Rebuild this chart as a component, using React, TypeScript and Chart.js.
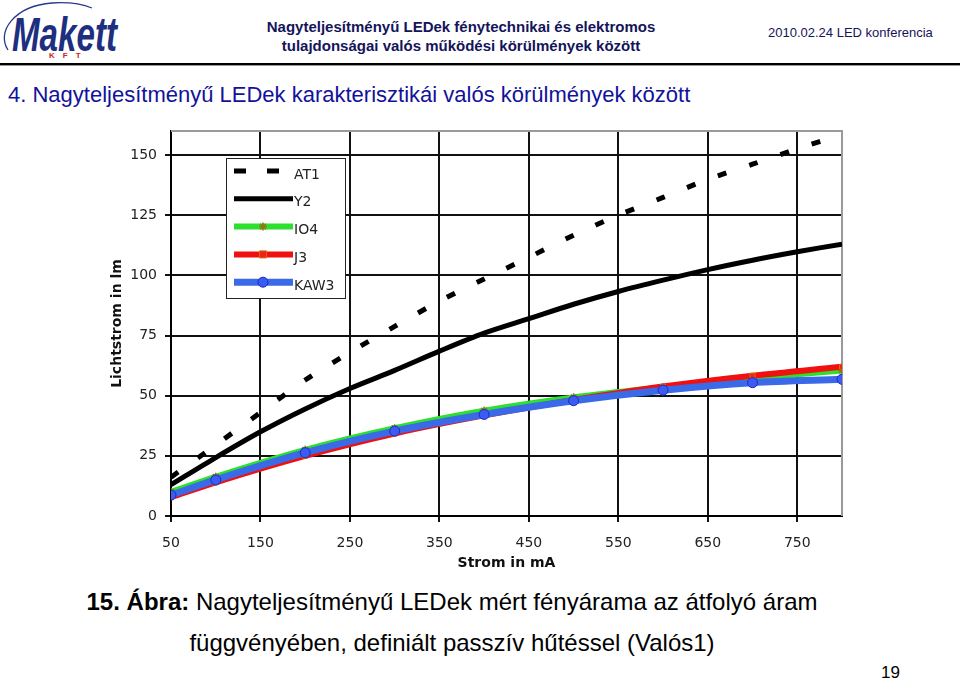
import React, { useEffect, useRef } from 'react';
import { Chart, registerables } from 'chart.js';

Chart.register(...registerables);

// ---- data ----
const currentMa = [50, 100, 150, 200, 250, 300, 350, 400, 450, 500, 550, 600, 650, 700, 750, 800];
const at1Lm = [16.1, 29.5, 43, 56.5, 68, 78.8, 89.3, 98.5, 107.5, 116.7, 125, 132.4, 139.9, 146.2, 152.6, 158.5];
const y2Lm = [13, 24.3, 35, 44.5, 53, 60.5, 68.5, 76, 82, 88, 93.3, 98, 102.4, 106.3, 109.8, 113];
const markerMa = [50, 100, 200, 300, 400, 500, 600, 700, 800];
const io4Lm = [10, 16.3, 27.5, 36.5, 43.8, 49.3, 53.5, 57.3, 60.5];
const j3Lm = [7.8, 14, 25, 34.3, 41.8, 48.2, 53.8, 58.3, 62];
const kaw3Lm = [8.7, 15, 26.3, 35.3, 42.2, 47.9, 52.3, 55.4, 56.8];
const xTicks = [50, 150, 250, 350, 450, 550, 650, 750];
const yTicks = [0, 25, 50, 75, 100, 125, 150];
const seriesNames = ['AT1', 'Y2', 'IO4', 'J3', 'KAW3'];

const pts = (xs: number[], ys: number[]) => xs.map((x, i) => ({ x, y: ys[i] }));

function drawMarker(ctx: CanvasRenderingContext2D, style: string, x: number, y: number, r: number, fill: string, stroke: string, bw: number) {
  ctx.save();
  ctx.setLineDash([]);
  ctx.fillStyle = fill;
  ctx.strokeStyle = stroke;
  ctx.lineWidth = bw;
  ctx.beginPath();
  if (style === 'circle') {
    ctx.arc(x, y, r, 0, Math.PI * 2);
    ctx.fill();
    ctx.stroke();
  } else if (style === 'rect') {
    ctx.rect(x - r, y - r, r * 2, r * 2);
    ctx.fill();
    ctx.stroke();
  } else if (style === 'star') {
    for (let k = 0; k < 4; k++) {
      const a = (k * Math.PI) / 4;
      ctx.moveTo(x - Math.cos(a) * r, y - Math.sin(a) * r);
      ctx.lineTo(x + Math.cos(a) * r, y + Math.sin(a) * r);
    }
    ctx.stroke();
  }
  ctx.restore();
}

const framePlugin = {
  id: 'frame',
  beforeDatasetsDraw(chart: any) {
    const { ctx, chartArea: a } = chart;
    ctx.save();
    ctx.strokeStyle = '#9a9a9a';
    ctx.lineWidth = 2;
    ctx.beginPath();
    ctx.moveTo(a.left, a.top);
    ctx.lineTo(a.right, a.top);
    ctx.lineTo(a.right, a.bottom);
    ctx.stroke();
    ctx.restore();
  },
};

const boxLegendPlugin = {
  id: 'boxLegend',
  afterDatasetsDraw(chart: any) {
    const { ctx, chartArea: a } = chart;
    const x0 = a.left + 55;
    const y0 = a.top + 27;
    const w = 119;
    const h = 140;
    ctx.save();
    ctx.fillStyle = '#ffffff';
    ctx.fillRect(x0, y0, w, h);
    ctx.strokeStyle = '#222';
    ctx.lineWidth = 1;
    ctx.strokeRect(x0 + 0.5, y0 + 0.5, w, h);
    chart.data.datasets.forEach((ds: any, i: number) => {
      const y = y0 + 13 + i * 27.8;
      ctx.save();
      ctx.strokeStyle = ds.borderColor;
      ctx.lineWidth = ds.borderWidth;
      ctx.setLineDash(ds.borderDash ? [12, 21] : []);
      ctx.lineCap = 'butt';
      ctx.beginPath();
      ctx.moveTo(x0 + 8, y);
      ctx.lineTo(x0 + 67, y);
      ctx.stroke();
      ctx.restore();
      if (ds.pointRadius > 0) {
        drawMarker(ctx, ds.pointStyle, x0 + 37, y, ds.pointRadius, ds.pointBackgroundColor, ds.pointBorderColor, ds.pointBorderWidth);
      }
      ctx.fillStyle = '#222';
      ctx.font = '14px "DejaVu Sans"';
      ctx.textBaseline = 'middle';
      ctx.textAlign = 'left';
      ctx.fillText(ds.label, x0 + 68, y + 4);
    });
    ctx.restore();
  },
};

function LedChart() {
  const ref = useRef<HTMLCanvasElement | null>(null);
  useEffect(() => {
    if (!ref.current) return;
    const tickFont = { family: 'DejaVu Sans', size: 14 };
    const chart = new Chart(ref.current, {
      type: 'line',
      data: {
        datasets: [
          {
            label: seriesNames[0],
            data: pts(currentMa, at1Lm),
            borderColor: '#000',
            borderWidth: 5,
            borderDash: [9, 24],
            pointRadius: 0,
            tension: 0.3,
            order: 5,
          },
          {
            label: seriesNames[1],
            data: pts(currentMa, y2Lm),
            borderColor: '#000',
            borderWidth: 5,
            pointRadius: 0,
            tension: 0.3,
            order: 4,
          },
          {
            label: seriesNames[2],
            data: pts(markerMa, io4Lm),
            borderColor: '#2ee02e',
            borderWidth: 6,
            pointStyle: 'star',
            pointRadius: 4,
            pointBackgroundColor: '#8a7a10',
            pointBorderColor: '#8a7a10',
            pointBorderWidth: 1.5,
            cubicInterpolationMode: 'monotone',
            order: 3,
          },
          {
            label: seriesNames[3],
            data: pts(markerMa, j3Lm),
            borderColor: '#f01010',
            borderWidth: 6,
            pointStyle: 'rect',
            pointRadius: 3.5,
            pointBackgroundColor: '#f02020',
            pointBorderColor: '#d07000',
            pointBorderWidth: 1,
            cubicInterpolationMode: 'monotone',
            order: 2,
          },
          {
            label: seriesNames[4],
            data: pts(markerMa, kaw3Lm),
            borderColor: '#3a6ae8',
            borderWidth: 7,
            pointStyle: 'circle',
            pointRadius: 5,
            pointBackgroundColor: '#3a5cf0',
            pointBorderColor: '#1a2ac8',
            pointBorderWidth: 1,
            cubicInterpolationMode: 'monotone',
            order: 1,
          },
        ],
      },
      options: {
        animation: false,
        responsive: false,
        maintainAspectRatio: false,
        layout: { padding: { top: 11, right: 18, left: 0, bottom: 0 } },
        plugins: {
          legend: { display: false },
          tooltip: { enabled: false },
        },
        scales: {
          x: {
            type: 'linear',
            min: 50,
            max: 800,
            afterBuildTicks: (s: any) => {
              s.ticks = xTicks.map((v) => ({ value: v }));
            },
            afterFit: (s: any) => {
              s.height = 64;
              s.paddingLeft = 0;
              s.paddingRight = 0;
            },
            grid: { color: '#111', lineWidth: 2, tickLength: 6, drawTicks: true },
            border: { display: true, color: '#000', width: 2 },
            ticks: { font: tickFont, color: '#222', padding: 13, maxRotation: 0 },
            title: {
              display: true,
              text: 'Strom in mA',
              font: { family: 'DejaVu Sans', size: 14, weight: 'bold' },
              color: '#111',
              padding: { top: 0, bottom: 8 },
            },
          },
          y: {
            type: 'linear',
            min: 0,
            max: 160,
            afterBuildTicks: (s: any) => {
              s.ticks = yTicks.map((v) => ({ value: v }));
            },
            afterFit: (s: any) => {
              s.width = 71;
              s.paddingTop = 0;
              s.paddingBottom = 0;
            },
            grid: { color: '#111', lineWidth: 2, tickLength: 6, drawTicks: true },
            border: { display: true, color: '#000', width: 2 },
            ticks: { font: tickFont, color: '#222', padding: 8 },
            title: {
              display: true,
              text: 'Lichtstrom in lm',
              font: { family: 'DejaVu Sans', size: 14, weight: 'bold' },
              color: '#111',
              padding: { top: 9, bottom: 0 },
            },
          },
        },
      },
      plugins: [framePlugin, boxLegendPlugin],
    } as any);
    return () => chart.destroy();
  }, []);
  return (
    <canvas
      ref={ref}
      width={760}
      height={460}
      style={{ position: 'absolute', left: 100, top: 120, width: 760, height: 460 }}
    />
  );
}

function Logo() {
  return (
    <svg width={130} height={66} viewBox="0 0 130 66" style={{ position: 'absolute', left: 0, top: 0 }}>
      <path d="M 8 50 C -4 32, 14 6, 52 3 C 68 2, 82 4, 92 8" fill="none" stroke="#2a3a8a" strokeWidth={1.3} />
      <text
        x={12}
        y={51}
        fontFamily="Liberation Sans, Arial, sans-serif"
        fontSize={48}
        fontWeight="bold"
        fontStyle="italic"
        fill="#1e2f80"
        textLength={105}
        lengthAdjust="spacingAndGlyphs"
      >
        Makett
      </text>
      <text x={49} y={58} fontFamily="Liberation Sans, Arial, sans-serif" fontSize={8} fontWeight="bold" fill="#d42020" letterSpacing={8}>
        KFT
      </text>
    </svg>
  );
}

export default function App() {
  const sans = '"Liberation Sans", Arial, sans-serif';
  return (
    <div
      style={{
        position: 'fixed',
        left: 0,
        top: 0,
        width: 960,
        height: 681,
        background: '#fff',
        overflow: 'hidden',
        fontFamily: sans,
      }}
    >
      <Logo />
      <div
        style={{
          position: 'absolute',
          left: 211,
          top: 17,
          width: 500,
          textAlign: 'center',
          fontSize: 15,
          lineHeight: '19px',
          fontWeight: 'bold',
          color: '#14145a',
        }}
      >
        Nagyteljesítményű LEDek fénytechnikai és elektromos
        <br />
        tulajdonságai valós működési körülmények között
      </div>
      <div style={{ position: 'absolute', left: 768, top: 25, fontSize: 13, lineHeight: '16px', color: '#14145a' }}>
        2010.02.24 LED konferencia
      </div>
      <div style={{ position: 'absolute', left: 0, top: 63, width: 960, height: 2, background: '#000' }} />
      <div style={{ position: 'absolute', left: 0, top: 65, width: 960, height: 1, background: '#999' }} />
      <div
        style={{
          position: 'absolute',
          left: 8,
          top: 82,
          fontSize: 22,
          lineHeight: '26px',
          color: '#12129a',
          whiteSpace: 'nowrap',
        }}
      >
        4. Nagyteljesítményű LEDek karakterisztikái valós körülmények között
      </div>
      <LedChart />
      <div
        style={{
          position: 'absolute',
          left: 0,
          top: 588,
          width: 904,
          textAlign: 'center',
          fontSize: 24,
          lineHeight: '28px',
          color: '#000',
          whiteSpace: 'nowrap',
        }}
      >
        <b>15. Ábra:</b> Nagyteljesítményű LEDek mért fényárama az átfolyó áram
      </div>
      <div
        style={{
          position: 'absolute',
          left: 0,
          top: 629,
          width: 904,
          textAlign: 'center',
          fontSize: 24,
          lineHeight: '28px',
          color: '#000',
          whiteSpace: 'nowrap',
        }}
      >
        függvényében, definiált passzív hűtéssel (Valós1)
      </div>
      <div style={{ position: 'absolute', left: 881, top: 663, fontSize: 17, lineHeight: '20px', color: '#000' }}>19</div>
    </div>
  );
}
